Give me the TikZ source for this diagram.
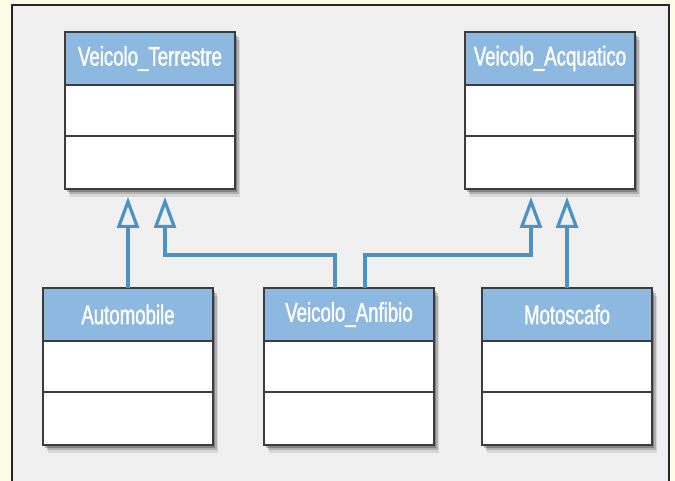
\documentclass[tikz,border=0pt]{standalone}
\usepackage{fontspec}
\newfontfamily\hdrfont{Liberation Sans}[FakeStretch=0.69, FakeBold=1.3]
\usetikzlibrary{arrows.meta,shadows,calc}
\definecolor{cream}{HTML}{FDFBE6}
\definecolor{panel}{HTML}{F1F0F0}
\definecolor{hdr}{HTML}{8DB8E0}
\definecolor{edge}{HTML}{3C3C3C}
\definecolor{conn}{HTML}{4A93C4}
\tikzset{
  clsbox/.style={draw=none, fill=white, minimum width=170pt, minimum height=157pt,
    inner sep=0pt, outer sep=0pt,
    drop shadow={shadow xshift=5pt, shadow yshift=-8pt, fill=black, opacity=0.10},
    drop shadow={shadow xshift=4pt, shadow yshift=-5pt, fill=black, opacity=0.18},
    drop shadow={shadow xshift=2pt, shadow yshift=-3pt, fill=black, opacity=0.25}},
  hdrtext/.style={text=white, font=\hdrfont\fontsize{27}{27}\selectfont, inner sep=0pt},
  boxline/.style={draw=edge, line width=1.4pt},
  gen/.style={draw=conn, line width=3.2pt,
    -{Triangle[open, length=31pt, width=22pt, line width=3.2pt]}, shorten >=8pt},
}
\newcommand\umlcls[4]{%
  \node[clsbox, anchor=north west] (#1) at (#2,#3) {};
  \fill[hdr] (#1.north west) rectangle ([yshift=-53pt]#1.north east);
  \node[hdrtext] (#1-t) at ([yshift=-26.5pt]#1.north) {#4};
  \draw[boxline] ([yshift=-53pt]#1.north west) -- ([yshift=-53pt]#1.north east);
  \draw[boxline] ([yshift=-104pt]#1.north west) -- ([yshift=-104pt]#1.north east);
  \draw[boxline] (#1.north west) rectangle (#1.south east);
}
\begin{document}
\begin{tikzpicture}[x=1pt, y=-1pt]
\useasboundingbox (0,0) rectangle (675,481);
\fill[cream] (0,0) rectangle (675,481);
\fill[panel] (12,5) rectangle (669,481);
\draw[line width=2pt, draw=black!85] (12,481) -- (12,5) -- (669,5) -- (669,481);

\umlcls{terr}{65}{32}{Veicolo\_Terrestre}
\umlcls{acq}{465}{32}{Veicolo\_Acquatico}
\umlcls{auto}{43}{288}{Automobile}
\umlcls{anf}{264}{288}{Veicolo\_Anfibio}
\umlcls{moto}{482}{288}{Motoscafo}

\draw[gen] (auto.north) -- (auto.north |- terr.south);
\draw[gen] ([xshift=-14pt]anf.north) -- ++(0,-33) -| ([xshift=15pt]terr.south);
\draw[gen] ([xshift=16pt]anf.north) -- ++(0,-33) -| ([xshift=-19pt]acq.south);
\draw[gen] (moto.north) -- (moto.north |- acq.south);
\end{tikzpicture}
\end{document}
